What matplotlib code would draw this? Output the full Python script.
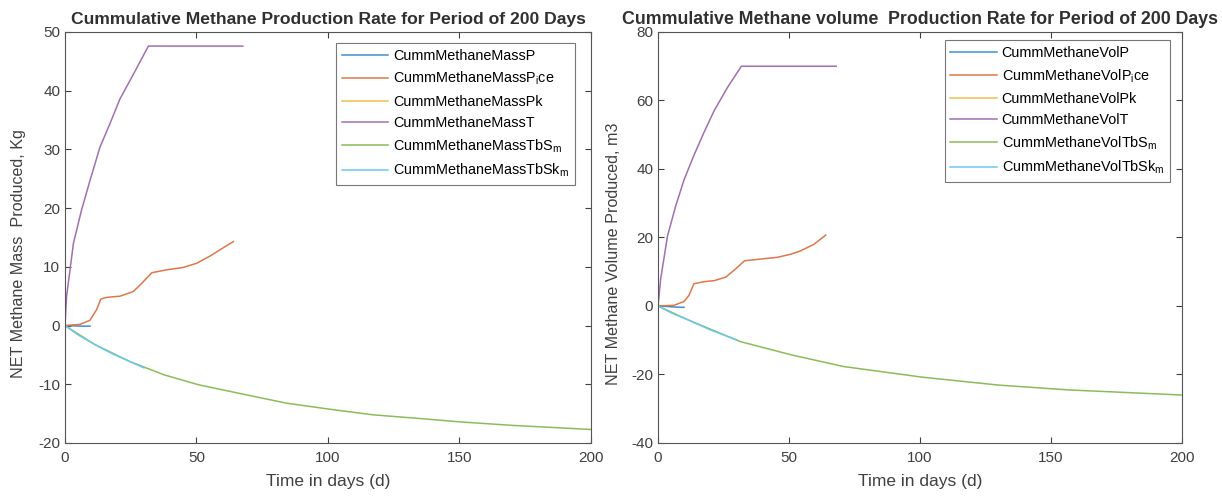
import matplotlib.pyplot as plt

plt.rcParams['font.family'] = ['Liberation Sans', 'DejaVu Sans']
plt.rcParams['mathtext.default'] = 'regular'
plt.rcParams['axes.unicode_minus'] = False

# ---- mass (kg) ----
t_massT = [0, 0.6, 3.2, 6.3, 9.5, 13.3, 17.1, 20.9, 26, 31.7, 67.6]
massT = [0, 5.0, 14.0, 19.7, 24.7, 30.4, 34.4, 38.6, 42.8, 47.6, 47.6]

t_massPice = [0, 5.7, 9.5, 12, 13.6, 15.8, 20.9, 26, 29.2, 33, 38.7, 45, 50, 55, 60, 64]
massPice = [0, 0.2, 0.9, 2.7, 4.5, 4.8, 5.0, 5.8, 7.2, 9.0, 9.5, 9.9, 10.6, 11.8, 13.2, 14.3]

t_massP = [0, 3, 6, 9.5]
massP = [0, -0.05, -0.1, -0.1]

t_massPk = []
massPk = []

t_massTbS = [0, 11.2, 24.5, 37.7, 50.9, 66.8, 84, 99.8, 117, 136.8, 150, 170, 200]
massTbS = [0, -3.2, -6.1, -8.4, -10.1, -11.6, -13.2, -14.2, -15.2, -15.9, -16.4, -17.0, -17.7]

t_massTbSk = [0, 5, 11.2, 18, 24.5, 30]
massTbSk = [0, -1.6, -3.2, -4.8, -6.1, -7.2]

# ---- volume (m3) ----
t_volT = [0, 1, 3.6, 6.7, 9.9, 13.7, 17.6, 21.4, 26.5, 31.8, 68]
volT = [0, 7.9, 20.4, 29.1, 36.8, 44.0, 50.8, 57.0, 63.8, 70.0, 70.0]

t_volPice = [0, 6.1, 9.9, 11.8, 13.7, 17.6, 21.4, 25.8, 29.6, 33, 39.2, 45.5, 50.6, 54.4, 59.5, 64]
volPice = [0, 0.2, 1.3, 3.1, 6.5, 7.1, 7.4, 8.4, 10.8, 13.2, 13.7, 14.2, 15.1, 16.1, 18.0, 20.7]

t_volP = [0, 3, 6, 9.9]
volP = [0, -0.1, -0.3, -0.4]

t_volPk = []
volPk = []

t_volTbS = [0, 11.6, 31.4, 51, 71, 101, 130, 156.5, 200]
volTbS = [0, -4.1, -10.4, -14.3, -17.7, -20.8, -23.1, -24.5, -26.0]

t_volTbSk = [0, 5, 11.6, 20, 30]
volTbSk = [0, -2.0, -4.1, -7.0, -9.9]

colors = ['#3d8fd0', '#e0764a', '#f0c050', '#a070b0', '#8cbc5a', '#6cc8f0']

mass_labels = ['CummMethaneMassP', 'CummMethaneMassP$_{i}$ce', 'CummMethaneMassPk',
               'CummMethaneMassT', 'CummMethaneMassTbS$_{m}$', 'CummMethaneMassTbSk$_{m}$']
vol_labels = ['CummMethaneVolP', 'CummMethaneVolP$_{i}$ce', 'CummMethaneVolPk',
              'CummMethaneVolT', 'CummMethaneVolTbS$_{m}$', 'CummMethaneVolTbSk$_{m}$']

fig = plt.figure(figsize=(12.22, 4.96), dpi=100)
ax1 = fig.add_axes([0.0532, 0.1069, 0.4304, 0.8286])
ax2 = fig.add_axes([0.5385, 0.1069, 0.4288, 0.8286])

mass_series = [(t_massP, massP), (t_massPice, massPice), (t_massPk, massPk),
               (t_massT, massT), (t_massTbS, massTbS), (t_massTbSk, massTbSk)]
vol_series = [(t_volP, volP), (t_volPice, volPice), (t_volPk, volPk),
              (t_volT, volT), (t_volTbS, volTbS), (t_volTbSk, volTbSk)]

legend_anchor = {ax1: (0.9696, 0.973), ax2: (0.977, 0.98)}

for ax, series, labels in [(ax1, mass_series, mass_labels), (ax2, vol_series, vol_labels)]:
    for (t, v), c, lab in zip(series, colors, labels):
        ax.plot(t, v, color=c, lw=1.1, label=lab)
    ax.set_xlim(0, 200)
    ax.set_xticks([0, 50, 100, 150, 200])
    ax.tick_params(direction='in', top=True, right=True, labelsize=11, colors='#404040', length=4)
    ax.tick_params(axis='x', pad=6)
    for s in ax.spines.values():
        s.set_color('#555555')
    ax.set_xlabel('Time in days (d)', fontsize=12.5, color='#404040', labelpad=6)
    leg = ax.legend(loc='upper right', fontsize=10.4, frameon=True, fancybox=False,
                    handlelength=3.2, handletextpad=0.35, labelspacing=0.5,
                    borderpad=0.4, borderaxespad=0, bbox_to_anchor=legend_anchor[ax])
    leg.get_frame().set_edgecolor('#555555')
    leg.get_frame().set_linewidth(0.8)

ax1.set_ylim(-20, 50)
ax1.set_yticks(range(-20, 51, 10))
ax1.set_ylabel('NET Methane Mass  Produced, Kg', fontsize=11.6, color='#404040')
ax1.yaxis.set_label_coords(-0.074, 0.46)
ax1.set_title('Cummulative Methane Production Rate for Period of 200 Days',
              fontsize=12.6, fontweight='bold', color='#303030', pad=6)

ax2.set_ylim(-40, 80)
ax2.set_yticks(range(-40, 81, 20))
ax2.set_ylabel('NET Methane Volume Produced, m3', fontsize=11.6, color='#404040')
ax2.yaxis.set_label_coords(-0.071, 0.46)
ax2.set_title('Cummulative Methane volume  Production Rate for Period of 200 Days',
              loc='left', x=-0.069, fontsize=12.8, fontweight='bold', color='#303030', pad=6)

fig.savefig('out.png', dpi=100, facecolor='white')
